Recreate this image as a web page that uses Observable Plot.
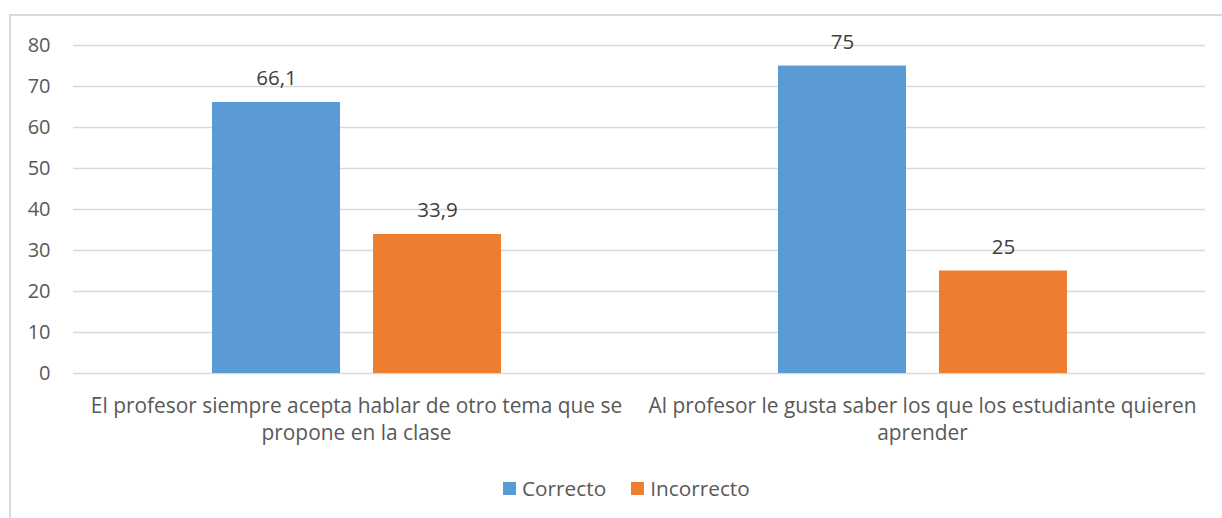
<!DOCTYPE html>
<html>
<head>
<meta charset="utf-8">
<script src="https://cdn.jsdelivr.net/npm/d3@7"></script>
<script src="https://cdn.jsdelivr.net/npm/@observablehq/plot@0.6"></script>
<style>
  html, body { margin: 0; padding: 0; background: #fff; overflow: hidden; width: 1222px; height: 518px; }
  #frame { position: absolute; left: 9px; top: 14px; width: 1400px; height: 700px; border: 2px solid #d9d9d9; box-sizing: border-box; }
  #chart { position: absolute; left: 0; top: 0; }
  #legend { position: absolute; left: 503px; top: 474px; display: flex; align-items: center; font-family: "Open Sans", sans-serif; font-size: 20.8px; color: #595959; }
  .sw { width: 13px; height: 13px; display: inline-block; margin-right: 6px; }
  .item { display: flex; align-items: center; margin-right: 25px; }
</style>
</head>
<body>
<div id="frame"></div>
<div id="chart"></div>
<div id="legend"></div>
<script>
const categories = [
  "El profesor siempre acepta hablar de otro tema que se\npropone en la clase",
  "Al profesor le gusta saber los que los estudiante quieren\naprender"
];
const series = ["Correcto", "Incorrecto"];
const correcto = [66.1, 75];
const incorrecto = [33.9, 25];
const yTicks = [0, 10, 20, 30, 40, 50, 60, 70, 80];
const colors = ["#5B9BD5", "#ED7D31"];

const rows = [];
categories.forEach((c, i) => {
  rows.push({category: c, series: series[0], value: correcto[i]});
  rows.push({category: c, series: series[1], value: incorrecto[i]});
});
const fmt = v => String(v).replace(".", ",");

const chart = Plot.plot({
  width: 1222,
  height: 460,
  marginLeft: 73,
  marginRight: 17,
  marginTop: 45,
  marginBottom: 87,
  fx: {domain: categories, padding: 0, axis: null, label: null},
  x: {domain: series, paddingInner: 0.205, paddingOuter: 0.86, axis: null, label: null},
  y: {domain: [0, 80], axis: null, label: null},
  color: {domain: series, range: colors},
  style: {fontFamily: "'Open Sans', sans-serif", color: "#595959", background: "transparent"},
  marks: [
    Plot.gridY(yTicks, {stroke: "#d9d9d9", strokeOpacity: 1, strokeWidth: 1.5}),
    Plot.axisY(yTicks, {tickSize: 0, tickPadding: 23, fontSize: 20, fill: "#595959", label: null}),
    Plot.barY(rows, {fx: "category", x: "series", y: "value", fill: "series"}),
    Plot.text(rows, {fx: "category", x: "series", y: "value", text: d => fmt(d.value), dy: -24, fontSize: 20.5, fill: "#404040"}),
    Plot.text(categories, {fx: d => d, text: d => d, frameAnchor: "bottom", lineAnchor: "top", dy: 21, fontSize: 20.9, lineHeight: 1.26, fill: "#595959"})
  ]
});
document.getElementById("chart").appendChild(chart);

const legend = document.getElementById("legend");
series.forEach((s, i) => {
  const item = document.createElement("span");
  item.className = "item";
  const sw = document.createElement("span");
  sw.className = "sw";
  sw.style.background = colors[i];
  item.appendChild(sw);
  item.appendChild(document.createTextNode(s));
  legend.appendChild(item);
});
</script>
</body>
</html>
